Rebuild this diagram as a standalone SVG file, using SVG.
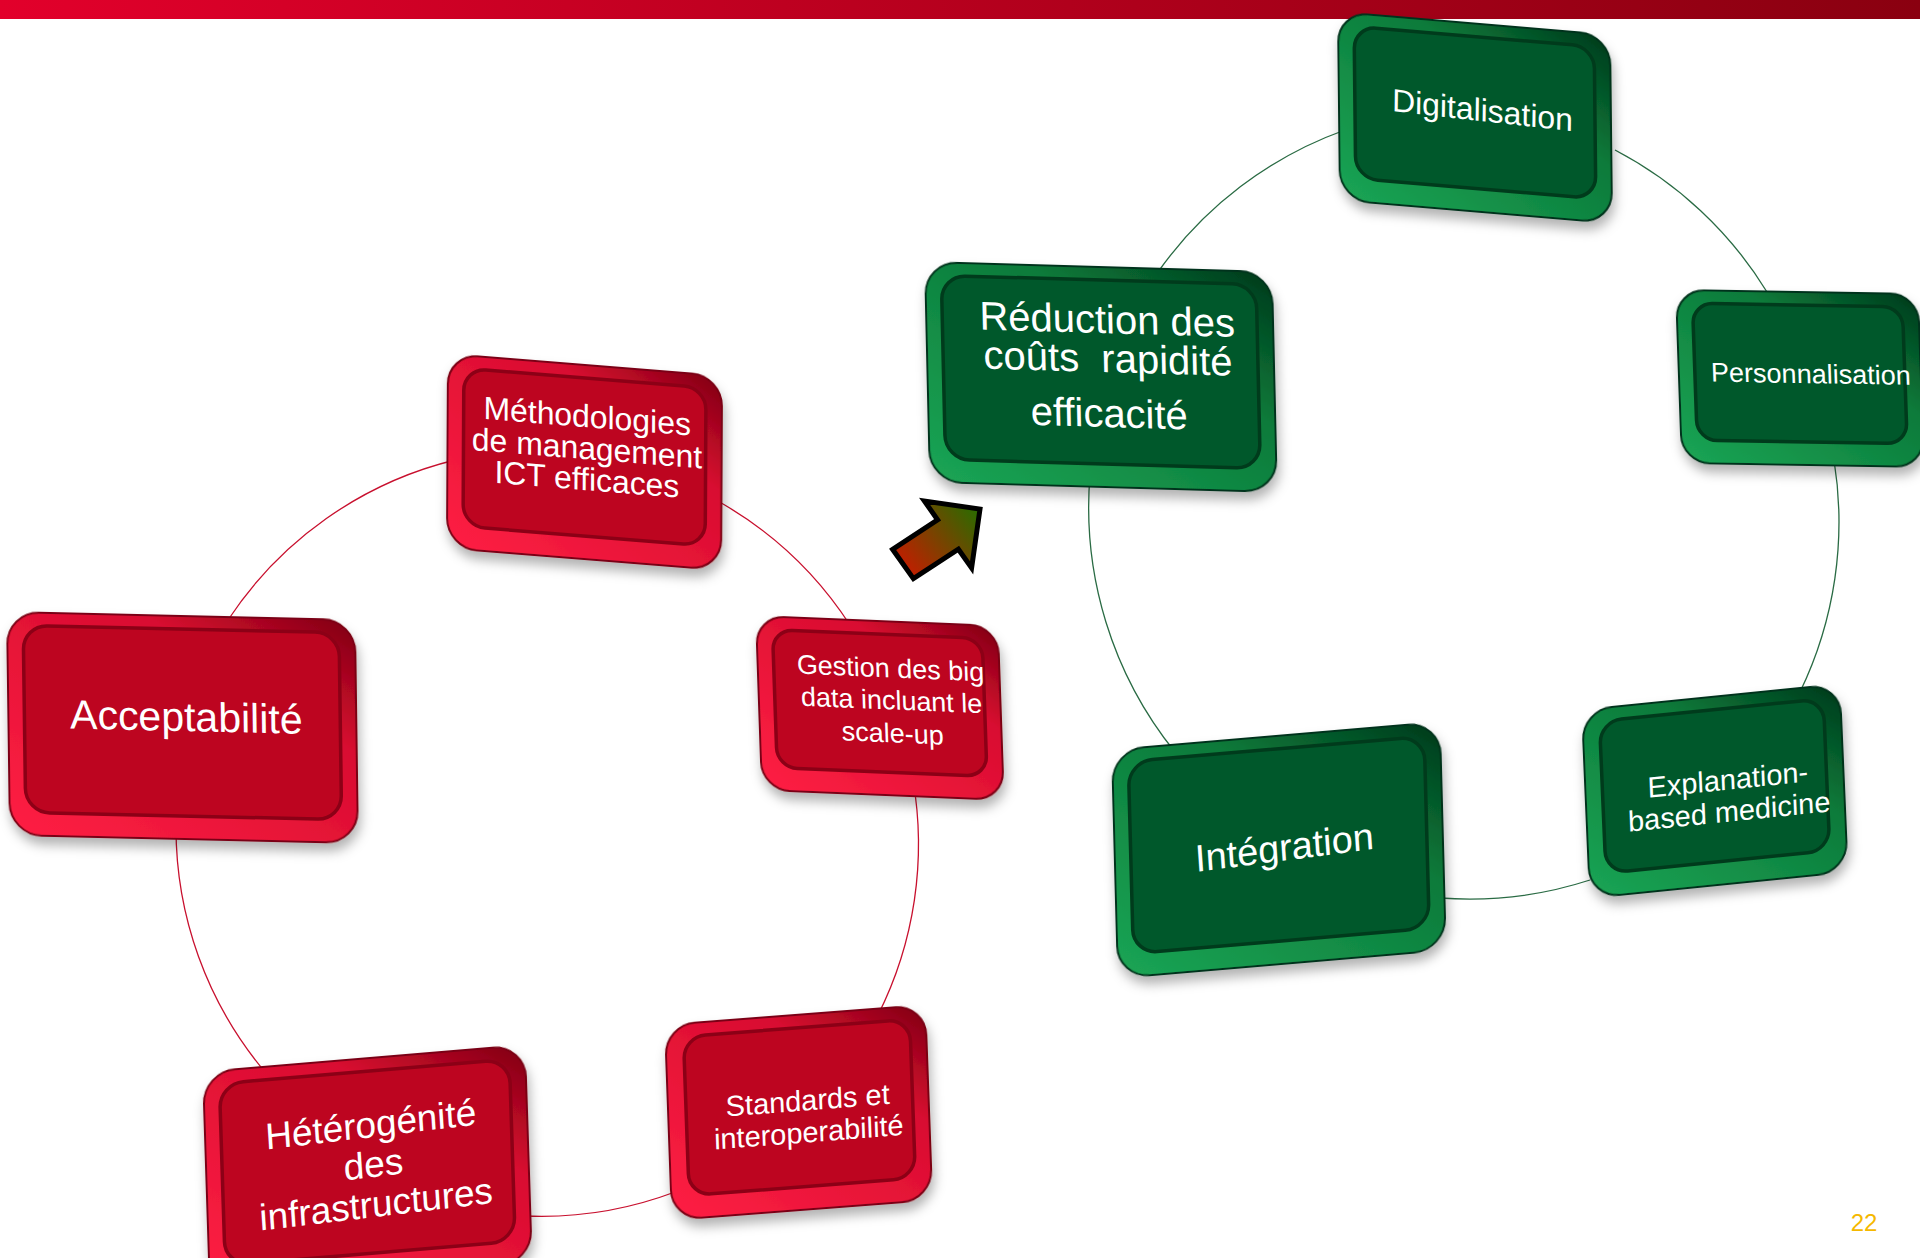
<svg xmlns="http://www.w3.org/2000/svg" width="1920" height="1258" viewBox="0 0 1920 1258">
<defs>
<linearGradient id="bar" x1="0" y1="0" x2="1" y2="0"><stop offset="0" stop-color="#E2002B"/><stop offset="1" stop-color="#8A0010"/></linearGradient>
<linearGradient id="gr-r" x1="1" y1="0" x2="0" y2="1"><stop offset="0" stop-color="#7E0012"/><stop offset="0.3" stop-color="#D80C30"/><stop offset="1" stop-color="#FF2044"/></linearGradient>
<linearGradient id="gr-g" x1="1" y1="0" x2="0" y2="1"><stop offset="0" stop-color="#00381A"/><stop offset="0.35" stop-color="#0B7A3A"/><stop offset="1" stop-color="#1BA555"/></linearGradient>
<linearGradient id="arr" gradientUnits="userSpaceOnUse" x1="900" y1="570" x2="975" y2="510"><stop offset="0" stop-color="#C81A00"/><stop offset="1" stop-color="#2E6A00"/></linearGradient>
<filter id="sh" x="-10%" y="-10%" width="125%" height="130%"><feDropShadow dx="2" dy="8" stdDeviation="6" flood-color="#000" flood-opacity="0.3"/></filter>
<style>
.rim-r{fill:url(#gr-r);stroke:#7A0012;stroke-width:2;filter:url(#sh)}
.face-r{fill:#BD0520;stroke:#8C0016;stroke-width:3.5}
.rim-g{fill:url(#gr-g);stroke:#00331A;stroke-width:2;filter:url(#sh)}
.face-g{fill:#00582B;stroke:#003B1C;stroke-width:3.5}
.t{font-family:"Liberation Sans",Arial,sans-serif;fill:#fff;text-anchor:middle}
.c-r{fill:none;stroke:#C8102E;stroke-width:1.3}
.c-g{fill:none;stroke:#2A6B44;stroke-width:1.3}
</style>
</defs>
<rect x="0" y="0" width="1920" height="19" fill="url(#bar)"/>
<g id="connectors">
<path class="c-r" d="M228 620 A380 380 0 0 1 455 460"/>
<path class="c-r" d="M716 500 A380 380 0 0 1 850 625"/>
<path class="c-r" d="M913 780 A380 380 0 0 1 878 1015"/>
<path class="c-r" d="M675 1192 A380 380 0 0 1 525 1216"/>
<path class="c-r" d="M265 1072 A380 380 0 0 1 176 825"/>
<path class="c-g" d="M1158 272 A390 390 0 0 1 1345 130"/>
<path class="c-g" d="M1615 150 A390 390 0 0 1 1767 292"/>
<path class="c-g" d="M1834 460 A390 390 0 0 1 1800 692"/>
<path class="c-g" d="M1590 880 A390 390 0 0 1 1440 898"/>
<path class="c-g" d="M1175 752 A390 390 0 0 1 1090 475"/>
</g>
<g id="n-methodologies" transform="matrix(0.9964 0.0800 -0.0052 1 448 354)">
<rect class="rim-r" x="0" y="0" width="275" height="194" rx="30"/>
<rect class="face-r" x="16" y="13" width="243" height="158" rx="22"/>
<text class="t" font-size="32"><tspan x="140" y="62">Méthodologies</tspan><tspan x="140" y="94">de management</tspan><tspan x="140" y="125">ICT efficaces</tspan></text>
</g>
<g id="n-acceptabilite" transform="matrix(0.9997 0.0230 0.0135 1 7 612)">
<rect class="rim-r" x="0" y="0" width="348" height="223" rx="32"/>
<rect class="face-r" x="16" y="13" width="316" height="187" rx="24"/>
<text class="t" font-size="41" x="178" y="115">Acceptabilité</text>
</g>
<g id="n-gestion" transform="matrix(0.9991 0.0413 0.0345 0.9994 756 616)">
<rect class="rim-r" x="0" y="0" width="242" height="174" rx="28"/>
<rect class="face-r" x="16" y="13" width="210" height="138" rx="20"/>
<text class="t" font-size="27"><tspan x="133" y="56">Gestion des big</tspan><tspan x="133" y="88">data incluant le</tspan><tspan x="133" y="121">scale-up</tspan></text>
</g>
<g id="n-standards" transform="matrix(0.9970 -0.0767 0.0359 0.9994 665 1025)">
<rect class="rim-r" x="0" y="0" width="261" height="195" rx="30"/>
<rect class="face-r" x="18" y="13" width="227" height="159" rx="22"/>
<text class="t" font-size="29"><tspan x="140" y="96">Standards et</tspan><tspan x="140" y="128">interoperabilité</tspan></text>
</g>
<g id="n-heterogenite" transform="matrix(0.9966 -0.0836 0.0321 0.9995 203 1072)">
<rect class="rim-r" x="0" y="0" width="323" height="218" rx="32"/>
<rect class="face-r" x="16" y="13" width="291" height="182" rx="24"/>
<text class="t" font-size="37" transform="rotate(-2 168 119)"><tspan x="168" y="79">Hétérogénité</tspan><tspan x="168" y="119">des</tspan><tspan x="168" y="159">infrastructures</tspan></text>
</g>
<g id="n-reduction" transform="matrix(0.9996 0.0288 0.0227 0.9995 925 262)">
<rect class="rim-g" x="0" y="0" width="347" height="220" rx="32"/>
<rect class="face-g" x="16" y="13" width="315" height="184" rx="24"/>
<text class="t" font-size="40" xml:space="preserve"><tspan x="181" y="66">Réduction des</tspan><tspan x="181" y="105">coûts  rapidité</tspan><tspan x="181" y="160">efficacité</tspan></text>
</g>
<g id="n-digitalisation" transform="matrix(0.9964 0.0843 0.0106 1 1338 12)">
<rect class="rim-g" x="0" y="0" width="273" height="188" rx="30"/>
<rect class="face-g" x="16" y="13" width="241" height="152" rx="22"/>
<text class="t" font-size="32" x="144" y="97" transform="rotate(1.5 144 90)">Digitalisation</text>
</g>
<g id="n-personnalisation" transform="matrix(1 0.0165 0.0347 0.9994 1676 290)">
<rect class="rim-g" x="0" y="0" width="242" height="173" rx="28"/>
<rect class="face-g" x="16" y="13" width="210" height="137" rx="20"/>
<text class="t" font-size="27" x="132" y="91">Personnalisation</text>
</g>
<g id="n-integration" transform="matrix(0.9964 -0.0851 0.0263 0.9997 1112 750)">
<rect class="rim-g" x="0" y="0" width="329" height="228" rx="32"/>
<rect class="face-g" x="16" y="13" width="297" height="192" rx="24"/>
<text class="t" font-size="38" x="170" y="125" transform="rotate(-2.5 170 112)">Intégration</text>
</g>
<g id="n-explanation" transform="matrix(0.995 -0.1003 0.0425 0.9991 1582 710)">
<rect class="rim-g" x="0" y="0" width="259" height="188" rx="30"/>
<rect class="face-g" x="17" y="13" width="225" height="152" rx="22"/>
<text class="t" font-size="29"><tspan x="143" y="94">Explanation-</tspan><tspan x="143" y="126">based medicine</tspan></text>
</g>
<g id="arrow">
<polygon points="892.6,549.3 937.6,519.8 924.4,501 980,509 971.6,568 958.4,549.2 913.4,578.7" fill="url(#arr)" stroke="#000" stroke-width="5" stroke-linejoin="miter"/>
</g>
<text x="1864" y="1231" font-family="Liberation Sans, Arial, sans-serif" font-size="24" fill="#F5B800" text-anchor="middle">22</text>
</svg>
